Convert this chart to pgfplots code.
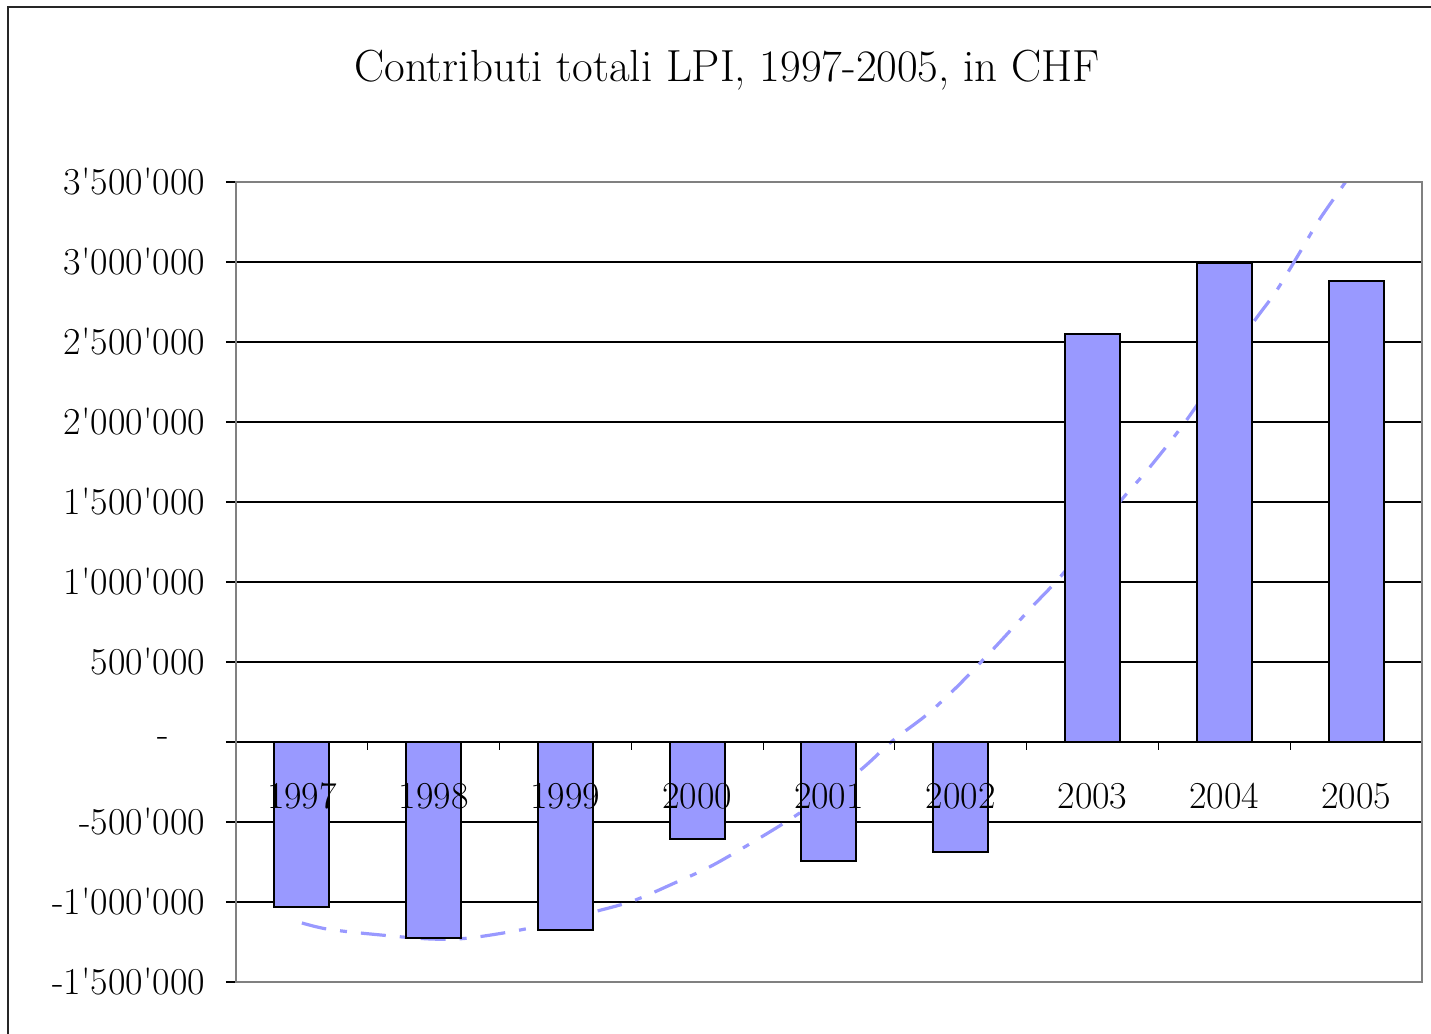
\documentclass[border=0pt]{standalone}
\usepackage{pgfplots}
\pgfplotsset{compat=1.18}
\definecolor{barblue}{RGB}{153,153,255}
\newcommand{\q}{\textquotesingle}
\begin{document}
\begin{tikzpicture}
\useasboundingbox (-118bp,-26bp) rectangle (597.5bp,491bp);
\draw[line width=1bp, black!85] (-114bp,-30bp) -- (-114bp,487.5bp) -- (600bp,487.5bp);
\begin{axis}[
  axis on top,
  scale only axis, width=593bp, height=400bp,
  at={(0,0)}, anchor=south west,
  xmin=-0.5, xmax=8.5, ymin=-1500000, ymax=3500000,
  axis y line*=left, axis x line*=middle,
  tick align=outside,
  axis line style={black, line width=0.8bp},
  xtick={0,...,8},
  xticklabels={1997,1998,1999,2000,2001,2002,2003,2004,2005},
  minor xtick={0.5,1.5,...,7.5},
  major x tick style={draw=none},
  minor x tick style={black, line width=0.6bp},
  minor tick length=4bp,
  major tick length=5bp,
  y tick style={black, line width=0.6bp},
  ytick={-1500000,-1000000,-500000,0,500000,1000000,1500000,2000000,2500000,3000000,3500000},
  yticklabels={-1\q500\q000,-1\q000\q000,-500\q000,-\hspace*{18bp},500\q000,1\q000\q000,1\q500\q000,2\q000\q000,2\q500\q000,3\q000\q000,3\q500\q000},
  scaled y ticks=false,
  tick label style={font=\fontsize{19bp}{22bp}\selectfont},
  xticklabel style={yshift=-12bp},
  yticklabel style={xshift=-7bp},
  unbounded coords=jump,
]
% grid lines, drawn first so the bars cover them
\addplot[black, line width=0.6bp] coordinates {
(-0.5,-1000000)(8.5,-1000000)(0,nan)(-0.5,-500000)(8.5,-500000)(0,nan)
(-0.5,500000)(8.5,500000)(0,nan)(-0.5,1000000)(8.5,1000000)(0,nan)
(-0.5,1500000)(8.5,1500000)(0,nan)(-0.5,2000000)(8.5,2000000)(0,nan)
(-0.5,2500000)(8.5,2500000)(0,nan)(-0.5,3000000)(8.5,3000000)};
\addplot[barblue, line width=1.6bp, smooth, dash pattern=on 12.5bp off 7bp on 3.5bp off 7bp] coordinates {
(0.0,-1131000)(0.19,-1169000)(0.52,-1200000)(0.97,-1231000)(1.27,-1225000)
(1.73,-1163000)(2.21,-1063000)(2.51,-994000)(2.81,-888000)(3.15,-756000)
(3.72,-475000)(4.21,-194000)(4.48,6000)(4.74,169000)(4.97,344000)
(5.24,575000)(5.54,844000)(5.78,1056000)(6.20,1494000)(6.43,1713000)
(6.73,2031000)(7.19,2588000)(7.39,2813000)(7.57,3056000)(7.72,3263000)
(7.92,3500000)(8.0,3600000)};
\addplot[ybar, bar width=27.5bp, fill=barblue, draw=black, line width=1bp] coordinates {
(0,-1031000)(1,-1225000)(2,-1175000)(3,-606000)(4,-744000)
(5,-688000)(6,2550000)(7,2994000)(8,2881000)};
\end{axis}
\draw[gray, line width=1bp] (0,0) rectangle (593bp,400bp);
\node[anchor=base, font=\fontsize{22.5bp}{26bp}\selectfont] at (245.5bp,450bp) {Contributi totali LPI, 1997-2005, in CHF};
\end{tikzpicture}
\end{document}
